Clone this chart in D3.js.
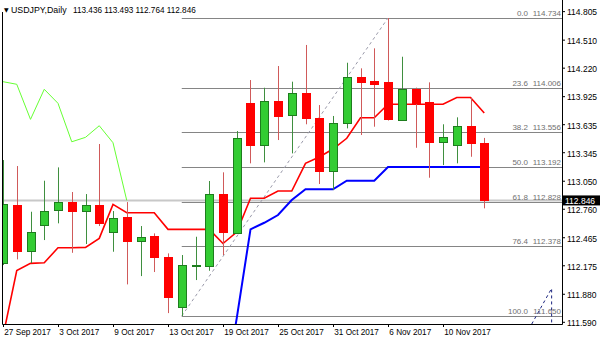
<!DOCTYPE html>
<html><head><meta charset="utf-8">
<script src="https://cdn.jsdelivr.net/npm/d3@7"></script>
<style>
html,body{margin:0;padding:0;background:#fff;}
svg{display:block;font-family:"Liberation Sans",Arial,sans-serif;}
</style></head><body>
<svg id="c" width="600" height="343"></svg>
<script>
// ---- data ----
const dates = ["2017-09-27","2017-09-28","2017-09-29","2017-10-02","2017-10-03","2017-10-04","2017-10-05","2017-10-06",
  "2017-10-09","2017-10-10","2017-10-11","2017-10-12","2017-10-13","2017-10-16","2017-10-17","2017-10-18","2017-10-19",
  "2017-10-20","2017-10-23","2017-10-24","2017-10-25","2017-10-26","2017-10-27","2017-10-30","2017-10-31","2017-11-01",
  "2017-11-02","2017-11-03","2017-11-06","2017-11-07","2017-11-08","2017-11-09","2017-11-10","2017-11-13","2017-11-14","2017-11-15"];
const opens  = [112.198,112.798,112.322,112.591,112.743,112.832,112.736,112.798,112.516,112.671,112.426,112.477,112.263,111.739,112.172,112.170,112.912,112.512,113.851,113.419,113.878,113.730,113.961,113.702,113.150,113.650,114.120,114.082,114.068,113.678,114.000,113.861,113.453,113.416,113.616,113.436];
const highs  = [113.264,113.202,112.729,113.050,113.188,112.933,112.912,113.430,112.736,112.829,112.581,112.505,112.298,112.281,112.470,113.047,113.137,113.564,114.092,114.012,114.237,114.075,114.455,113.833,113.720,114.271,114.213,114.420,114.734,114.333,114.013,114.068,113.634,113.706,113.909,113.493];
const lows   = [112.177,112.236,112.198,112.436,112.609,112.304,112.395,112.581,112.315,111.977,112.063,112.105,111.680,111.650,112.022,112.118,112.281,112.503,113.230,113.240,113.471,113.333,113.634,113.016,112.953,113.592,113.523,113.609,113.673,113.673,113.391,113.081,113.212,113.230,113.298,112.764];
const closes = [112.809,112.325,112.522,112.736,112.832,112.736,112.798,112.609,112.661,112.426,112.464,112.263,111.849,112.177,112.182,112.912,112.516,113.489,113.419,113.878,113.720,113.961,113.696,113.150,113.644,114.120,114.075,114.048,113.685,113.996,113.851,113.453,113.499,113.619,113.443,112.846];
// red line (one value per bar)
const redLine = [111.440,112.120,112.195,112.201,112.356,112.356,112.360,112.453,112.805,112.718,112.718,112.718,112.547,112.547,112.547,112.547,112.400,112.519,112.868,112.868,112.943,112.943,113.230,113.295,113.378,113.489,113.702,113.702,113.841,113.841,113.841,113.841,113.841,113.911,113.911,113.751];
// blue line, starts at bar 16
const blueStart = 16;
const blueLine = [110.780,111.628,112.547,112.615,112.695,112.850,112.961,112.961,112.961,113.050,113.050,113.050,113.192,113.192,113.192,113.192,113.192,113.192,113.192,113.192];
// green line, bars 0..9
const greenLine = [114.075,114.048,113.685,113.996,113.851,113.453,113.499,113.619,113.443,112.846];
const priceTicks = [114.805,114.510,114.220,113.925,113.635,113.345,113.050,112.760,112.465,112.175,111.880,111.590];
const dateTickIdx = [0,4,8,12,16,20,24,28,32];
const fibLevels = ["0.0","23.6","38.2","50.0","61.8","76.4","100.0"];
const fibPrices = [114.734,114.006,113.556,113.192,112.828,112.378,111.650];
const fibAnchors = [{i:13,p:111.650},{i:28,p:114.734}];
const extraDash = [{i:38.45,p:111.566},{i:39.9,p:111.936},{i:39.9,p:111.566}];
const bid = 112.846;
const symbolTitle = "USDJPY,Daily";
const ohlcText = "113.436 113.493 112.764 112.846";

// ---- drawing ----
const svg = d3.select('#c');
const x = d3.scaleLinear().domain([0,35]).range([3,484.25]);
const y = d3.scaleLinear().domain([114.734,111.650]).range([18,316]);
const px = v => Math.round(v)+0.5;
const fmtDate = d3.timeFormat("%-d %b %Y");
const parse = d3.timeParse("%Y-%m-%d");

svg.append('rect').attr('width',600).attr('height',343).attr('fill','#fff');
svg.append('defs').append('clipPath').attr('id','plot')
  .append('rect').attr('x',3).attr('y',0).attr('width',559).attr('height',324);
const g = svg.append('g').attr('clip-path','url(#plot)');

// bid line
g.append('line').attr('x1',3).attr('x2',562).attr('y1',y(bid)).attr('y2',y(bid))
  .attr('stroke','#c8c8c8').attr('stroke-width',2);

// fib levels
const fx0 = x(fibAnchors[0].i);
g.selectAll('line.fib').data(fibPrices).join('line').attr('class','fib')
  .attr('x1',fx0).attr('x2',562).attr('y1',d=>px(y(d))).attr('y2',d=>px(y(d)))
  .attr('stroke','#858585').attr('stroke-width',1);
g.selectAll('text.fl').data(fibPrices).join('text').attr('class','fl')
  .attr('x',528).attr('y',d=>y(d)-2).attr('text-anchor','end')
  .attr('font-size',8).attr('fill','#707070').text((d,k)=>fibLevels[k]);
g.selectAll('text.fv').data(fibPrices).join('text').attr('class','fv')
  .attr('x',561).attr('y',d=>y(d)-2).attr('text-anchor','end')
  .attr('font-size',8).attr('fill','#707070').text(d=>d3.format('.3f')(d));

// fib trend line (dotted)
g.append('line').attr('x1',x(fibAnchors[0].i)).attr('y1',y(fibAnchors[0].p))
  .attr('x2',x(fibAnchors[1].i)).attr('y2',y(fibAnchors[1].p))
  .attr('stroke','#9a9aaa').attr('stroke-dasharray','3,3').attr('stroke-width',1);

// extra dashed object bottom-right
g.append('path').attr('d',d3.line().x(d=>x(d.i)).y(d=>y(d.p))(extraDash))
  .attr('fill','none').attr('stroke','#1a237e').attr('stroke-dasharray','3,3').attr('stroke-width',1);

// indicator lines
const ln = d3.line().x(d=>x(d.i)).y(d=>y(d.v));
g.append('path').attr('d',ln(greenLine.map((v,i)=>({i,v}))))
  .attr('fill','none').attr('stroke','#66ff33').attr('stroke-width',1);
g.append('path').attr('d',ln(redLine.map((v,i)=>({i,v}))))
  .attr('fill','none').attr('stroke','#ff0000').attr('stroke-width',1.6);
g.append('path').attr('d',ln(blueLine.map((v,k)=>({i:k+blueStart,v}))))
  .attr('fill','none').attr('stroke','#0000ff').attr('stroke-width',2);

// candles
const candles = dates.map((d,i)=>({i,o:opens[i],h:highs[i],l:lows[i],c:closes[i]}));
const cg = g.selectAll('g.cd').data(candles).join('g').attr('class','cd');
cg.append('line').attr('x1',d=>px(x(d.i))).attr('x2',d=>px(x(d.i)))
  .attr('y1',d=>y(d.h)).attr('y2',d=>y(d.l))
  .attr('stroke',d=>d.c>=d.o?'#3f8f3f':'#d05a5a').attr('stroke-width',1);
cg.append('rect')
  .attr('x',d=>Math.round(x(d.i))-4+0.5)
  .attr('y',d=>Math.round(y(Math.max(d.o,d.c)))+0.5)
  .attr('width',8)
  .attr('height',d=>Math.max(1,Math.round(y(Math.min(d.o,d.c)))-Math.round(y(Math.max(d.o,d.c)))))
  .attr('fill',d=>d.c>=d.o?'#33cc33':'#ff0000')
  .attr('stroke',d=>d.c>=d.o?'#1e7d1e':'#ff0000').attr('stroke-width',1);

// frame
svg.append('line').attr('x1',562.5).attr('x2',562.5).attr('y1',0).attr('y2',324.5).attr('stroke','#000');
svg.append('line').attr('x1',2.5).attr('x2',562.5).attr('y1',324.5).attr('y2',324.5).attr('stroke','#000');
svg.append('line').attr('x1',2.5).attr('x2',2.5).attr('y1',12).attr('y2',324.5).attr('stroke','#000');

// right axis
const ya = svg.append('g').attr('transform','translate(562,0)')
  .call(d3.axisRight(y).tickValues(priceTicks).tickFormat(d3.format('.3f')).tickSize(3).tickPadding(2));
ya.select('.domain').remove();
ya.selectAll('text').attr('font-family','"Liberation Sans",Arial,sans-serif').attr('font-size',8.5).attr('fill','#000').attr('dy','0.45em');
ya.selectAll('line').attr('stroke','#000');

// current price box
svg.append('rect').attr('x',563).attr('y',y(bid)-5).attr('width',37).attr('height',10).attr('fill','#000');
svg.append('text').attr('x',565).attr('y',y(bid)+3.2).attr('font-size',8.5).attr('fill','#fff').text(d3.format('.3f')(bid));

// bottom axis
const xa = svg.append('g').attr('transform','translate(0,324)')
  .call(d3.axisBottom(x).tickValues(dateTickIdx).tickFormat(i=>fmtDate(parse(dates[i]))).tickSize(3).tickPadding(2));
xa.select('.domain').remove();
xa.selectAll('text').attr('font-family','"Liberation Sans",Arial,sans-serif').attr('font-size',8.2).attr('fill','#000')
  .attr('text-anchor','start').attr('dx','0.1em');
xa.selectAll('line').attr('stroke','#000');

// title
svg.append('text').attr('x',4).attr('y',12).attr('font-size',6).attr('font-family','DejaVu Sans').attr('fill','#000').text('▼');
svg.append('text').attr('x',11).attr('y',12.5).attr('font-size',8.8).attr('fill','#000').text(symbolTitle);
svg.append('text').attr('x',73).attr('y',12.5).attr('font-size',8.2).attr('fill','#000').text(ohlcText);
</script>
</body></html>
